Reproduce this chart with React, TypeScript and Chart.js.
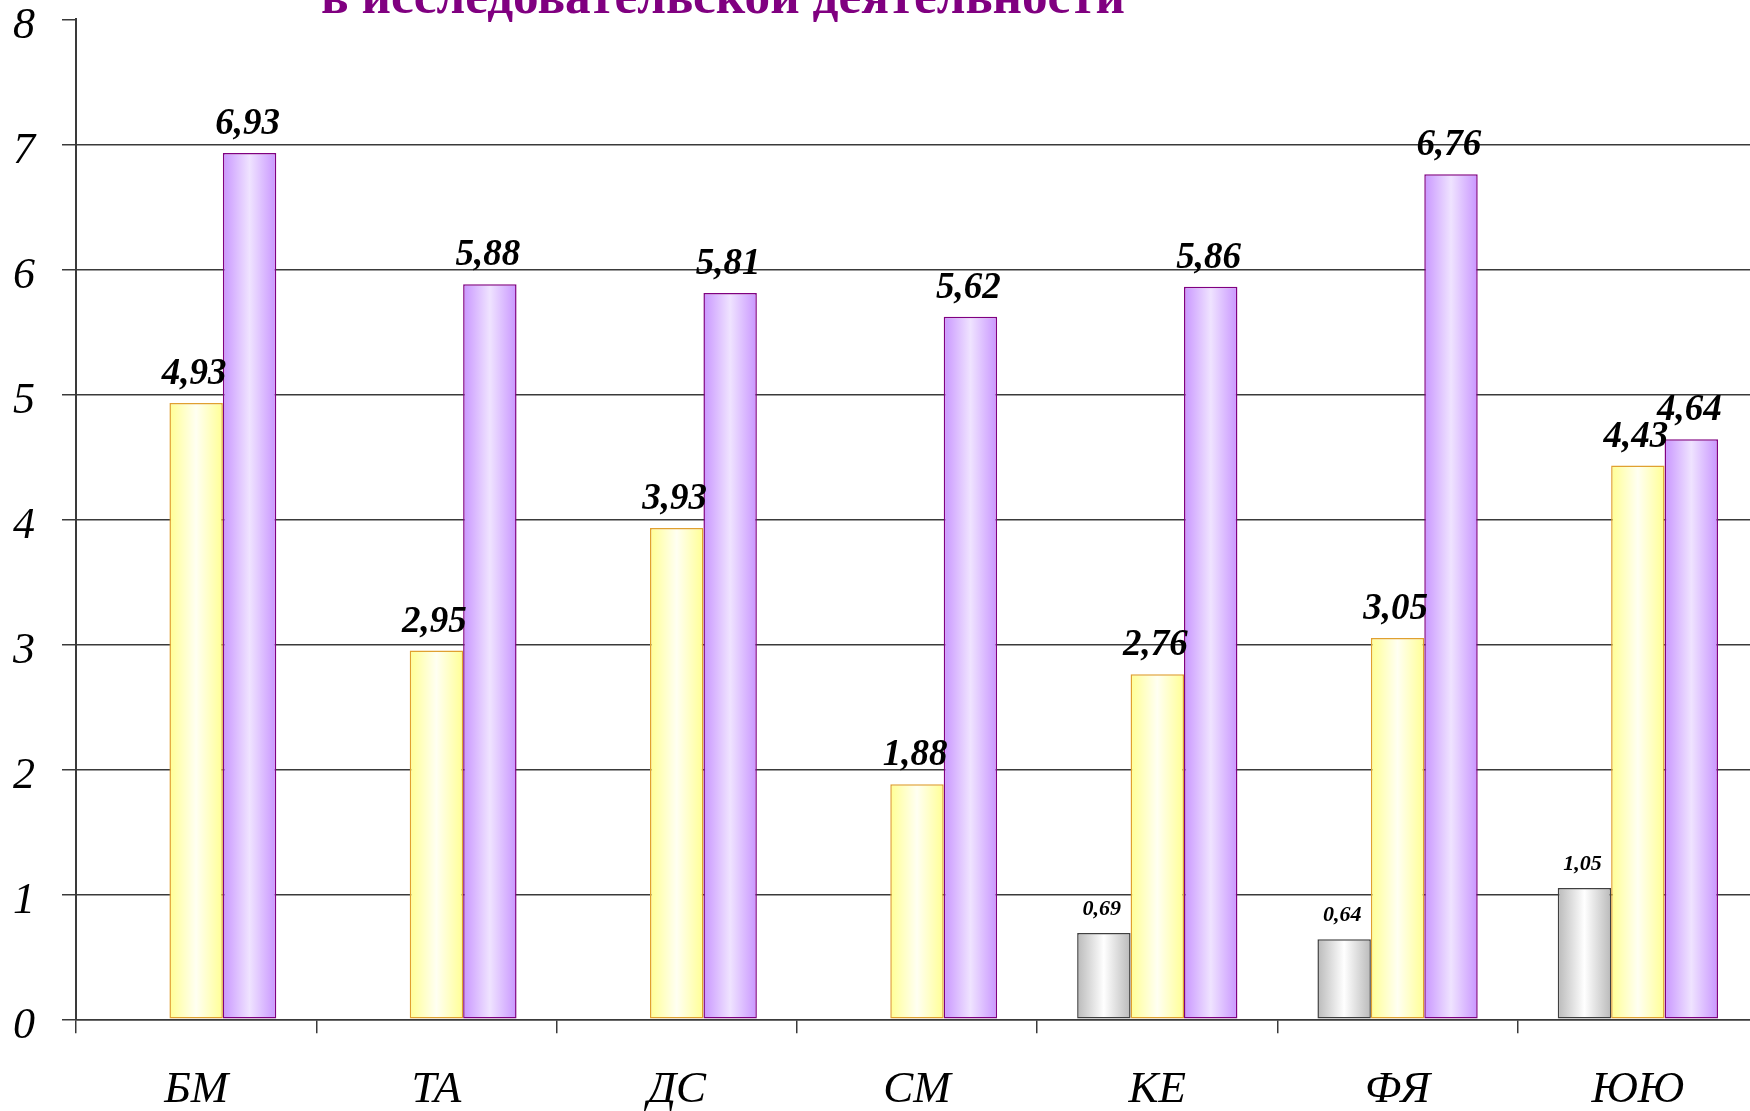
import React, { useEffect, useRef } from "react";
import { Chart, registerables } from "chart.js";

Chart.register(...registerables);

const categories = ["БМ", "ТА", "ДС", "СМ", "КЕ", "ФЯ", "ЮЮ"];
const graySeries: (number | null)[] = [null, null, null, null, 0.69, 0.64, 1.05];
const yellowSeries: (number | null)[] = [4.93, 2.95, 3.93, 1.88, 2.76, 3.05, 4.43];
const purpleSeries: (number | null)[] = [6.93, 5.88, 5.81, 5.62, 5.86, 6.76, 4.64];
const yTicks = [0, 1, 2, 3, 4, 5, 6, 7, 8];
const titleText = "в исследовательской деятельности";

const CAT_PCT = 0.667;
const FONT = '"Liberation Serif", "Times New Roman", serif';

const gradientFill = (edge: string, mid: string) => (ctx: any) => {
  const chart = ctx.chart;
  if (ctx.type !== "data" || !chart.chartArea || !chart.scales.x) return edge;
  const xs = chart.scales.x;
  const catW = xs.width / categories.length;
  const barW = (catW * CAT_PCT) / 3;
  const center = xs.getPixelForValue(ctx.dataIndex);
  const x0 = center - 1.5 * barW + ctx.datasetIndex * barW;
  const g = chart.ctx.createLinearGradient(x0, 0, x0 + barW, 0);
  g.addColorStop(0, edge);
  g.addColorStop(0.5, mid);
  g.addColorStop(1, edge);
  return g;
};

const labelPlugin = {
  id: "valueLabels",
  afterDatasetsDraw(chart: any) {
    const c = chart.ctx;
    chart.data.datasets.forEach((ds: any, i: number) => {
      const meta = chart.getDatasetMeta(i);
      meta.data.forEach((el: any, j: number) => {
        const v = ds.data[j];
        if (v === null || v === undefined) return;
        c.save();
        const small = i === 0;
        c.font = `italic bold ${small ? 22 : 37}px ${FONT}`;
        c.fillStyle = "#000";
        c.textAlign = "center";
        c.textBaseline = "alphabetic";
        c.fillText(v.toFixed(2).replace(".", ","), el.x - 2, el.y - (small ? 18 : 19));
        c.restore();
      });
    });
  },
  afterDraw(chart: any) {
    const c = chart.ctx;
    c.save();
    c.font = `bold 50px ${FONT}`;
    c.fillStyle = "#800080";
    c.textAlign = "left";
    c.textBaseline = "alphabetic";
    const w = c.measureText(titleText).width;
    c.translate(321, 13);
    c.scale(804 / w, 1);
    c.fillText(titleText, 0, 0);
    c.restore();
  },
};

export default function App() {
  const ref = useRef<HTMLCanvasElement | null>(null);

  useEffect(() => {
    if (!ref.current) return;
    const gridCol = "#3a3a3a";
    const chart = new Chart(ref.current, {
      type: "bar",
      data: {
        labels: categories,
        datasets: [
          {
            label: "gray",
            data: graySeries,
            backgroundColor: gradientFill("#bababa", "#ffffff"),
            borderColor: "#404040",
            borderWidth: 1.5,
            borderSkipped: false,
          },
          {
            label: "yellow",
            data: yellowSeries,
            backgroundColor: gradientFill("#ffff94", "#fffff2"),
            borderColor: "#e0a030",
            borderWidth: 1.5,
            borderSkipped: false,
          },
          {
            label: "purple",
            data: purpleSeries,
            backgroundColor: gradientFill("#c996ff", "#efe3ff"),
            borderColor: "#800080",
            borderWidth: 1.5,
            borderSkipped: false,
          },
        ] as any,
      },
      options: {
        responsive: false,
        animation: false,
        devicePixelRatio: 1,
        datasets: { bar: { categoryPercentage: CAT_PCT, barPercentage: 1 } },
        layout: { padding: { top: 19.3, right: 2, left: 0, bottom: 0 } },
        plugins: {
          legend: { display: false },
          title: { display: false },
          tooltip: { enabled: false },
        },
        scales: {
          x: {
            grid: {
              display: true,
              drawOnChartArea: false,
              drawTicks: true,
              tickLength: 14,
              offset: true,
              color: gridCol,
              lineWidth: 1.5,
            },
            border: { display: true, color: gridCol, width: 1.5 },
            ticks: {
              color: "#000",
              padding: 30,
              font: { family: FONT, size: 45, style: "italic" },
              maxRotation: 0,
            },
            afterFit: (s: any) => {
              s.height = 1111 - 1019.3;
              s.paddingLeft = 0;
              s.paddingRight = 0;
            },
          },
          y: {
            min: 0,
            max: 8,
            afterBuildTicks: (s: any) => {
              s.ticks = yTicks.map((v) => ({ value: v }));
            },
            grid: {
              color: (ctx: any) => (ctx.tick && ctx.tick.value === 8 ? "rgba(0,0,0,0)" : gridCol),
              tickColor: gridCol,
              lineWidth: 1.5,
              tickLength: 14,
              drawTicks: true,
            },
            border: { display: true, color: gridCol, width: 2 },
            ticks: {
              color: "#000",
              padding: 27,
              labelOffset: 7,
              font: { family: FONT, size: 44, style: "italic" },
            },
            afterFit: (s: any) => {
              s.width = 76;
              s.paddingTop = 0;
              s.paddingBottom = 0;
            },
          },
        },
      },
      plugins: [labelPlugin],
    });
    return () => chart.destroy();
  }, []);

  return (
    <div
      style={{
        position: "fixed",
        left: 0,
        top: 0,
        width: 1750,
        height: 1111,
        overflow: "hidden",
        background: "#fff",
      }}
    >
      <canvas ref={ref} width={1760} height={1111} style={{ display: "block", width: 1760, height: 1111 }} />
    </div>
  );
}
